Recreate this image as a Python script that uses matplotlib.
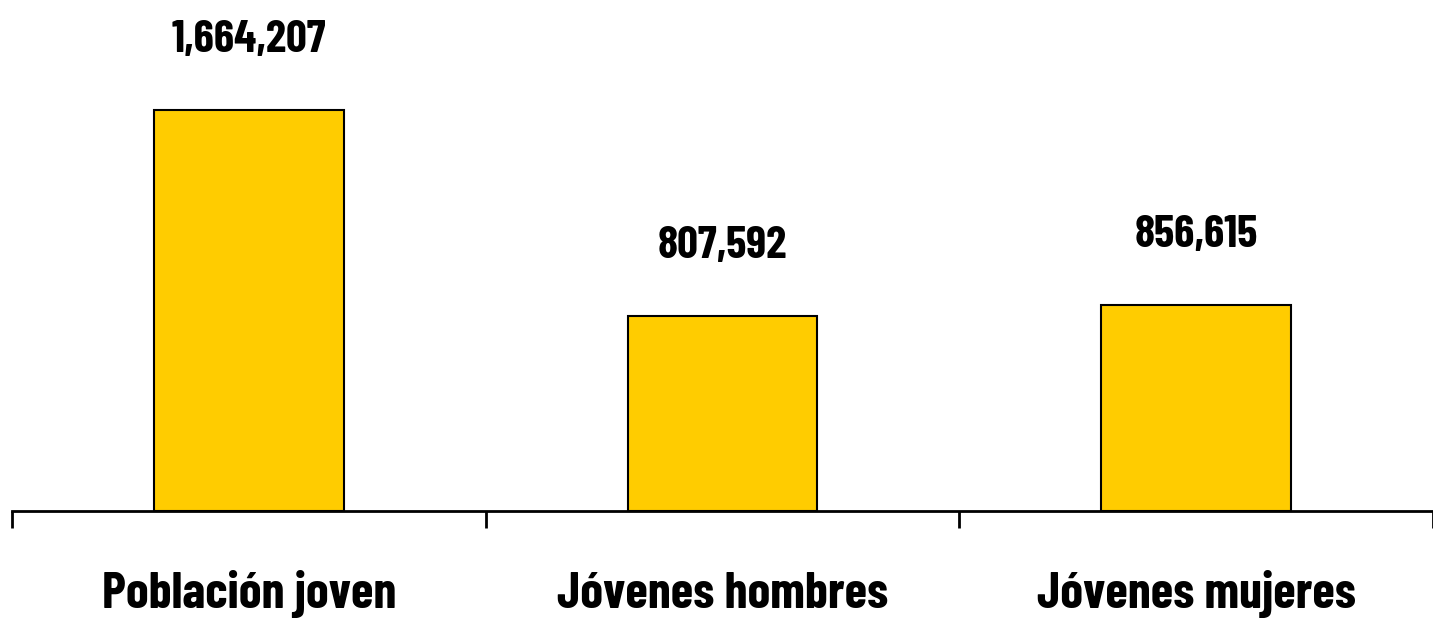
import matplotlib
matplotlib.use("Agg")
import matplotlib.pyplot as plt
from matplotlib.ticker import FixedLocator

categories = ["Población joven", "Jóvenes hombres", "Jóvenes mujeres"]
values = [1664207, 807592, 856615]
value_labels = ["1,664,207", "807,592", "856,615"]

plt.rcParams['font.family'] = ['Barlow Condensed', 'DejaVu Sans']

W, H, DPI = 1433, 618, 100
fig = plt.figure(figsize=(W / DPI, H / DPI), dpi=DPI)
ax = fig.add_axes([12 / W, (H - 511) / H, 1 - 12 / W, 511 / H])

xs = [i + 0.5 for i in range(len(categories))]
ax.bar(xs, values, width=0.4, color="#FFCC00", edgecolor="black", linewidth=1.5, zorder=2)

ax.set_xlim(0, len(categories))
ax.set_ylim(0, max(values) * 511 / 401)

for s in ["top", "right", "left"]:
    ax.spines[s].set_visible(False)
ax.spines["bottom"].set_linewidth(2)
ax.spines["bottom"].set_zorder(3)
ax.set_yticks([])

ax.set_xticks([])
ax.xaxis.set_minor_locator(FixedLocator(list(range(len(categories) + 1))))
ax.tick_params(axis="x", which="minor", length=12, width=2, direction="out")
ax.tick_params(axis="x", which="major", length=0)

for x, cat in zip(xs, categories):
    ax.annotate(cat, xy=(x, 0), xycoords=("data", "axes fraction"),
                xytext=(0, -97), textcoords="offset pixels",
                ha="center", va="baseline", fontsize=37, fontweight="bold")

for x, v, lab in zip(xs, values, value_labels):
    ax.annotate(lab, xy=(x, v), xytext=(0, 58), textcoords="offset pixels",
                ha="center", va="baseline", fontsize=33, fontweight="bold")

fig.savefig("out.png", dpi=DPI)
